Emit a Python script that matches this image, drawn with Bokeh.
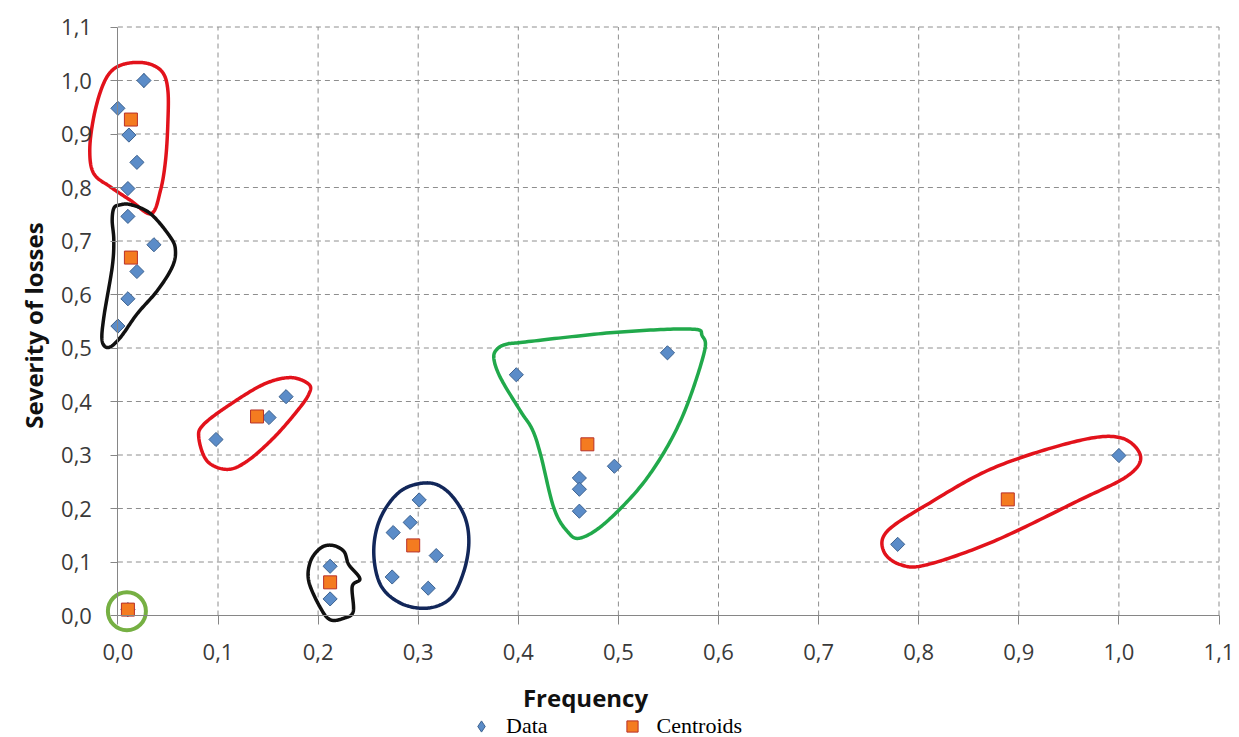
import numpy as np
from bokeh.plotting import figure
from bokeh.models import (LinearAxis, FixedTicker, Range1d, Legend, LegendItem,
                          Label, ColumnDataSource)
from bokeh.embed import file_html
from bokeh.resources import INLINE

# ---------------- data ----------------
data_x = [0.026, 0.000, 0.011, 0.019, 0.010,
          0.010, 0.036, 0.019, 0.010, 0.000,
          0.098, 0.151, 0.168,
          0.212, 0.212,
          0.301, 0.292, 0.275, 0.318, 0.274, 0.310,
          0.398, 0.549, 0.496, 0.461, 0.461, 0.461,
          0.779, 1.000,
          0.010]
data_y = [1.000, 0.948, 0.898, 0.847, 0.798,
          0.746, 0.693, 0.643, 0.592, 0.541,
          0.329, 0.370, 0.409,
          0.092, 0.031,
          0.216, 0.174, 0.155, 0.112, 0.072, 0.051,
          0.450, 0.491, 0.279, 0.257, 0.236, 0.195,
          0.133, 0.299,
          0.011]

centroid_x = [0.013, 0.013, 0.139, 0.212, 0.295, 0.469, 0.889, 0.010]
centroid_y = [0.927, 0.669, 0.372, 0.062, 0.131, 0.320, 0.217, 0.011]

x_ticks = [0.0, 0.1, 0.2, 0.3, 0.4, 0.5, 0.6, 0.7, 0.8, 0.9, 1.0, 1.1]
x_tick_labels = ["0,0", "0,1", "0,2", "0,3", "0,4", "0,5", "0,6", "0,7", "0,8", "0,9", "1,0", "1,1"]
y_ticks = [0.0, 0.1, 0.2, 0.3, 0.4, 0.5, 0.6, 0.7, 0.8, 0.9, 1.0, 1.1]
y_tick_labels = ["0,0", "0,1", "0,2", "0,3", "0,4", "0,5", "0,6", "0,7", "0,8", "0,9", "1,0", "1,1"]

x_title = "Frequency"
y_title = "Severity of losses"
series_names = ["Data", "Centroids"]

# hand-drawn cluster outlines (control points in data units)
red_top_x = [-0.0057, 0.0093, 0.0293, 0.0443, 0.0499, 0.0499, 0.0476, 0.0426, 0.0333, 0.0126, -0.0074, -0.0241, -0.0281, -0.0241, -0.0157]
red_top_y = [1.019, 1.032, 1.032, 1.016, 0.982, 0.920, 0.851, 0.795, 0.751, 0.776, 0.801, 0.826, 0.870, 0.932, 0.988]

black_top_x = [0.001, 0.0126, 0.0326, 0.0525, 0.0575, 0.0542, 0.0393, 0.0193, 0.0026, -0.0091, -0.0157, -0.0141, -0.0057, -0.0041, -0.0057, -0.0041]
black_top_y = [0.767, 0.768, 0.751, 0.707, 0.682, 0.651, 0.607, 0.564, 0.520, 0.501, 0.513, 0.557, 0.651, 0.701, 0.738, 0.761]

red_mid_x = [0.1907, 0.1724, 0.1458, 0.1125, 0.0858, 0.0808, 0.0892, 0.1092, 0.1292, 0.1557, 0.1791, 0.1907]
red_mid_y = [0.4323, 0.4447, 0.4323, 0.3949, 0.3574, 0.3323, 0.2886, 0.2731, 0.2886, 0.3323, 0.3823, 0.4136]

black_small_x = [0.2141, 0.2257, 0.2307, 0.2417, 0.2341, 0.2351, 0.2257, 0.2124, 0.2025, 0.1907, 0.1924, 0.2025]
black_small_y = [0.1312, 0.1199, 0.0950, 0.0688, 0.0543, 0.0075, -0.0051, -0.0081, 0.0137, 0.0637, 0.1012, 0.1261]

navy_x = [0.3090, 0.3290, 0.3456, 0.3506, 0.3456, 0.3323, 0.3090, 0.2823, 0.2623, 0.2556, 0.2623, 0.2823]
navy_y = [0.2479, 0.2324, 0.1887, 0.1387, 0.0825, 0.0324, 0.0137, 0.0231, 0.0575, 0.1199, 0.1823, 0.2324]

green_x = [0.3800, 0.3900, 0.4021, 0.4954, 0.5720, 0.5837, 0.5853, 0.5620, 0.5288, 0.4888, 0.4621, 0.4489, 0.4355, 0.4222, 0.4139, 0.4021, 0.3821, 0.3755]
green_y = [0.5000, 0.5080, 0.5103, 0.5290, 0.5354, 0.5229, 0.4886, 0.3636, 0.2573, 0.1762, 0.1449, 0.1574, 0.2011, 0.3012, 0.3480, 0.3823, 0.4447, 0.4822]

red_right_x = [1.0216, 1.0016, 0.9583, 0.8750, 0.8085, 0.7685, 0.7651, 0.7818, 0.8085, 0.8750, 0.9583, 1.0083]
red_right_y = [0.2980, 0.3323, 0.3261, 0.2761, 0.2075, 0.1574, 0.1199, 0.0950, 0.0950, 0.1387, 0.2136, 0.2605]

origin_ring_x = [0.009]
origin_ring_y = [0.008]


def smooth_closed(xs, ys, n=24):
    pts = np.column_stack([xs, ys]).astype(float)
    N = len(pts)
    out = []
    for i in range(N):
        p0, p1, p2, p3 = pts[i - 1], pts[i], pts[(i + 1) % N], pts[(i + 2) % N]
        for t in np.linspace(0, 1, n, endpoint=False):
            t2, t3 = t * t, t * t * t
            out.append(0.5 * ((2 * p1) + (-p0 + p2) * t + (2 * p0 - 5 * p1 + 4 * p2 - p3) * t2
                              + (-p0 + 3 * p1 - 3 * p2 + p3) * t3))
    out.append(out[0])
    out = np.array(out)
    return out[:, 0], out[:, 1]


# ---------------- figure ----------------
W, H = 1239, 737
X0_PX, X_SCALE = 117.4, 1001.0   # pixel of x=0 from frame left, px per unit
Y0_PX, Y_SCALE = 122.0, 535.0    # pixel of y=0 from frame bottom, px per unit

p = figure(width=W, height=H, output_backend="svg", toolbar_location=None,
           x_range=Range1d(-X0_PX / X_SCALE, (W - X0_PX) / X_SCALE),
           y_range=Range1d(-Y0_PX / Y_SCALE, (H - Y0_PX) / Y_SCALE),
           x_axis_location=None, y_axis_location=None,
           min_border=0, min_border_left=0, min_border_right=0,
           min_border_top=0, min_border_bottom=0)
p.outline_line_color = None
p.background_fill_color = "white"
p.border_fill_color = "white"
p.grid.visible = False

# gridlines
grid_col = "#8e8e8e"
p.segment(x0=x_ticks[1:], y0=[0] * (len(x_ticks) - 1), x1=x_ticks[1:], y1=[y_ticks[-1]] * (len(x_ticks) - 1),
          line_color=grid_col, line_width=1, line_dash="5 4")
p.segment(x0=[0] * (len(y_ticks) - 1), y0=y_ticks[1:], x1=[x_ticks[-1]] * (len(y_ticks) - 1), y1=y_ticks[1:],
          line_color=grid_col, line_width=1, line_dash="5 4")

axis_col = "#868686"
xaxis = LinearAxis(fixed_location=0, bounds=(x_ticks[0], x_ticks[-1]),
                   ticker=FixedTicker(ticks=x_ticks, minor_ticks=[]),
                   major_label_overrides=dict(zip(x_ticks, x_tick_labels)))
yaxis = LinearAxis(fixed_location=0, bounds=(y_ticks[0], y_ticks[-1]),
                   ticker=FixedTicker(ticks=y_ticks, minor_ticks=[]),
                   major_label_overrides=dict(zip(y_ticks, y_tick_labels)))
for ax in (xaxis, yaxis):
    ax.axis_line_color = axis_col
    ax.axis_line_width = 1
    ax.major_tick_line_color = axis_col
    ax.major_tick_in = 0
    ax.minor_tick_line_color = None
    ax.major_label_text_font = "Open Sans"
    ax.major_label_text_font_size = "22px"
    ax.major_label_text_color = "#3a3a3a"
xaxis.major_tick_out = 9
xaxis.major_label_standoff = 19
yaxis.major_tick_out = 7
yaxis.major_label_standoff = 19
p.add_layout(xaxis, "below")
p.add_layout(yaxis, "left")

# outlines
outlines = [
    (red_top_x, red_top_y, "#e2121b", 3.5),
    (black_top_x, black_top_y, "#111111", 3.5),
    (red_mid_x, red_mid_y, "#e2121b", 3.5),
    (black_small_x, black_small_y, "#111111", 3.5),
    (navy_x, navy_y, "#12275a", 3.5),
    (green_x, green_y, "#21a94b", 3.5),
    (red_right_x, red_right_y, "#e2121b", 3.5),
]
for xs, ys, col, lw in outlines:
    sx, sy = smooth_closed(xs, ys)
    p.line(sx, sy, line_color=col, line_width=lw, line_join="round", line_cap="round")

p.scatter(origin_ring_x, origin_ring_y, marker="circle", size=38, fill_color=None,
          line_color="#76b043", line_width=4)

# markers
src_d = ColumnDataSource(dict(x=data_x, y=data_y))
src_c = ColumnDataSource(dict(x=centroid_x, y=centroid_y))
# legend swatch for the data series (diamond shape), hidden under the first data marker
r_data_key = p.scatter("x", "y", source=ColumnDataSource(dict(x=data_x[:1], y=data_y[:1])),
                       marker="diamond", size=14,
                       fill_color="#5b8cc8", line_color="#3d628f", line_width=1)
r_data = p.scatter("x", "y", source=src_d, marker="square", angle=np.pi / 4, size=10,
                   fill_color="#5b8cc8", line_color="#3d628f", line_width=1)
r_cent = p.scatter("x", "y", source=src_c, marker="square", size=13,
                   fill_color="#f47b20", line_color="#b8312a", line_width=1)

legend = Legend(items=[LegendItem(label=series_names[0], renderers=[r_data_key]),
                       LegendItem(label=series_names[1], renderers=[r_cent])],
                orientation="horizontal", location=(467, -3),
                padding=0, margin=0, spacing=70, label_standoff=11,
                glyph_width=28, glyph_height=28, label_height=28,
                label_text_font="Liberation Serif", label_text_font_size="22px",
                label_text_color="#000000",
                background_fill_alpha=0, border_line_color=None)
p.add_layout(legend, "center")

# axis titles
p.add_layout(Label(x=585, y=40, x_units="screen", y_units="screen", text=x_title,
                   text_font="Open Sans", text_font_style="bold", text_font_size="24px",
                   text_align="center", text_baseline="alphabetic", text_color="#111111"))
p.add_layout(Label(x=33, y=412, x_units="screen", y_units="screen", text=y_title,
                   angle=np.pi / 2, text_font="Open Sans", text_font_style="bold",
                   text_font_size="24px", text_align="center", text_baseline="alphabetic",
                   text_color="#111111"))

open("out.html", "w").write(file_html(p, INLINE))
